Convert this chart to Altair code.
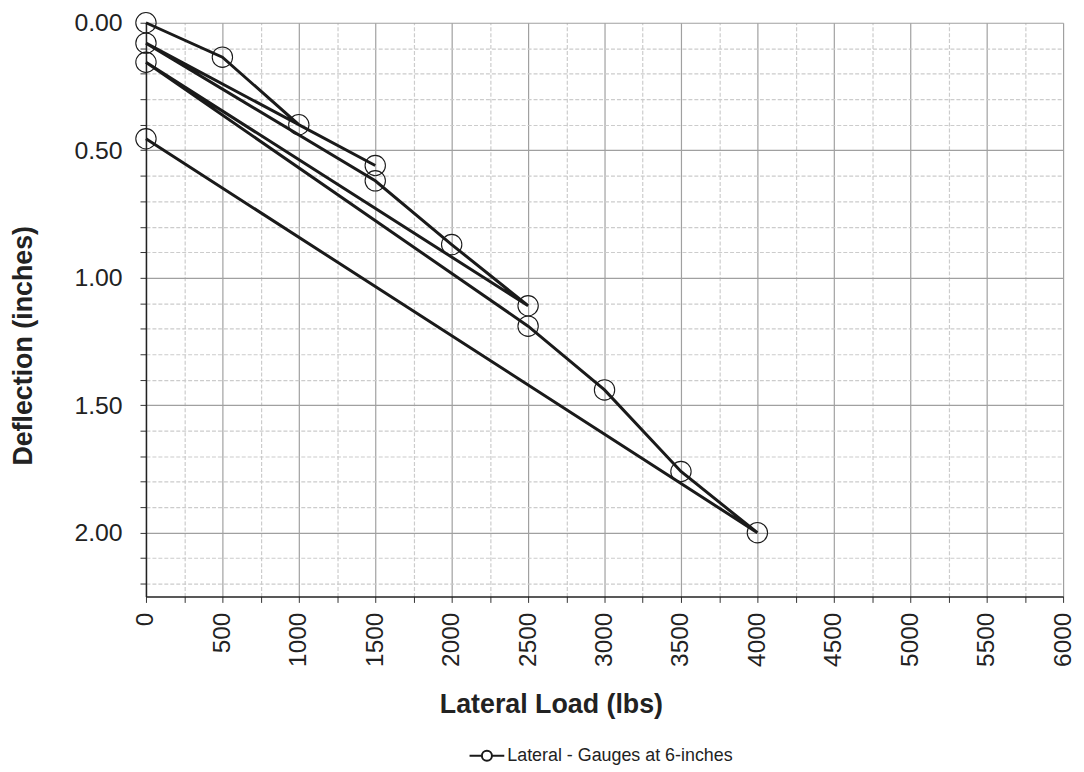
import altair as alt
import pandas as pd

# Lateral load test, points in recorded order (load cycles)
load_lbs = [0, 500, 1000, 1500, 0, 1500, 2000, 2500, 0, 2500, 3000, 3500, 4000, 0]
deflection_in = [0.00, 0.135, 0.40, 0.56, 0.08, 0.62, 0.87, 1.11, 0.155, 1.19, 1.44, 1.76, 2.00, 0.455]
series_name = "Lateral - Gauges at 6-inches"

x_ticks = [i * 250 for i in range(25)]
y_ticks = [round(i * 0.1, 1) for i in range(23)]

df = pd.DataFrame({
    "load": load_lbs,
    "defl": deflection_in,
    "order": list(range(len(load_lbs))),
    "series": [series_name] * len(load_lbs),
})

FONT = "Liberation Sans"
X_MAJOR = "datum.value % 500 == 0"
Y_MAJOR = "abs(round(datum.value * 10) % 5) == 0"

x_enc = alt.X(
    "load:Q",
    scale=alt.Scale(domain=[0, 6000], nice=False, zero=False),
    axis=alt.Axis(
        title="Lateral Load (lbs)",
        values=x_ticks,
        tickCount=1000,
        labelExpr=X_MAJOR + " ? format(datum.value, 'd') : ''",
        labelAngle=-90,
        labelFontSize=24.5,
        labelFont=FONT,
        labelColor="#222222",
        labelPadding=10,
        labelOverlap=False,
        labelFlush=False,
        titleFontSize=27,
        titleFont=FONT,
        titleFontWeight="bold",
        titleColor="#222222",
        titleX=408,
        titleY=117,
        titleAlign="center",
        titleBaseline="alphabetic",
        tickSize=6,
        tickColor="#333333",
        domainColor="#222222",
        domainWidth=1.5,
        grid=True,
        gridColor={"condition": {"test": X_MAJOR, "value": "#a0a0a0"}, "value": "#cccccc"},
        gridDash={"condition": {"test": X_MAJOR, "value": []}, "value": [4, 2]},
        gridWidth=1.2,
    ),
)

y_enc = alt.Y(
    "defl:Q",
    scale=alt.Scale(domain=[0, 2.25], nice=False, zero=False, reverse=True),
    axis=alt.Axis(
        title="Deflection (inches)",
        values=y_ticks,
        tickCount=1000,
        labelExpr=Y_MAJOR + " ? format(datum.value, '.2f') : ''",
        labelFontSize=25,
        labelFont=FONT,
        labelColor="#222222",
        labelPadding=18,
        labelOverlap=False,
        labelFlush=False,
        titleFontSize=27,
        titleFont=FONT,
        titleFontWeight="bold",
        titleColor="#222222",
        titleX=-123,
        titleY=325,
        titleAlign="center",
        titleBaseline="middle",
        titleAngle=-90,
        tickSize=6,
        tickColor="#333333",
        domainColor="#222222",
        domainWidth=1.5,
        grid=True,
        gridColor={"condition": {"test": Y_MAJOR, "value": "#a0a0a0"}, "value": "#cccccc"},
        gridDash={"condition": {"test": Y_MAJOR, "value": []}, "value": [4, 2]},
        gridWidth=1.2,
    ),
)

legend_path = "M-1,0L-0.29,0M0.29,0L1,0M-0.29,0A0.29,0.29,0,1,1,0.29,0A0.29,0.29,0,1,1,-0.29,0"

color_enc = alt.Color(
    "series:N",
    scale=alt.Scale(domain=[series_name], range=["#1a1a1a"]),
    legend=alt.Legend(
        title=None,
        orient="none",
        legendX=325,
        legendY=720,
        padding=0,
        direction="horizontal",
        symbolType=legend_path,
        symbolSize=1225,
        symbolStrokeWidth=2,
        symbolFillColor="transparent",
        symbolStrokeColor="#1a1a1a",
        labelFontSize=18,
        labelFont=FONT,
        labelColor="#222222",
        labelOffset=2,
        labelLimit=0,
    ),
)

line = alt.Chart(df).mark_line(strokeWidth=3).encode(
    x=x_enc, y=y_enc, order="order:Q", color=color_enc
)

points = alt.Chart(df).mark_point(
    shape="circle", size=420, filled=False, strokeWidth=1.1, color="#1a1a1a", opacity=1
).encode(x="load:Q", y="defl:Q")

chart = alt.layer(line, points).properties(
    width=924,
    height=578,
    autosize=alt.AutoSizeParams(type="none"),
    padding={"left": 139, "top": 12, "right": 13, "bottom": 172},
    background="white",
).configure_view(stroke=None)

chart.save("out.html", embed_options={"renderer": "svg", "actions": False})
